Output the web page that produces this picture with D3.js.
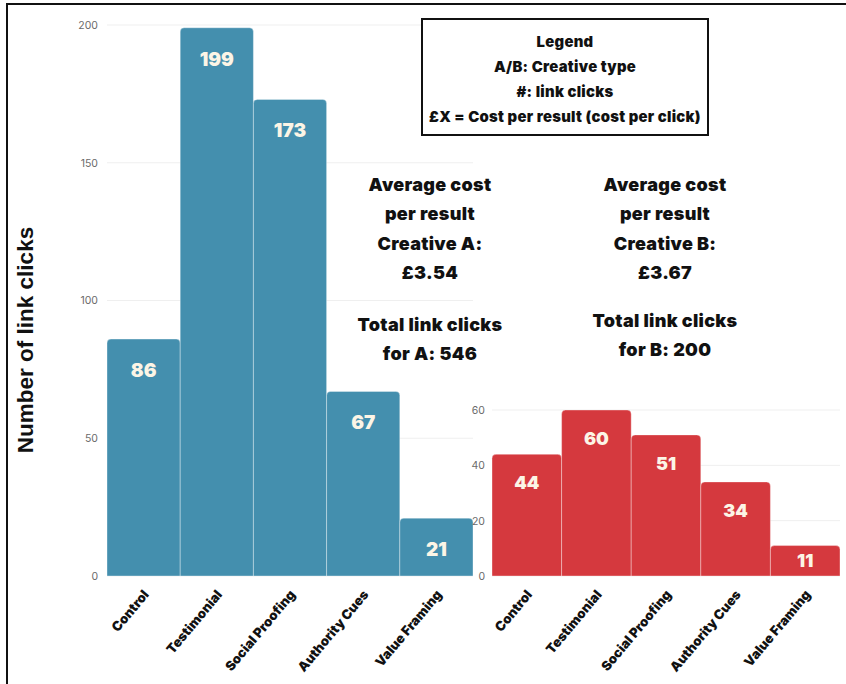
<!DOCTYPE html>
<html>
<head>
<meta charset="utf-8">
<script src="https://cdn.jsdelivr.net/npm/d3@7"></script>
<style>
  html, body { margin: 0; padding: 0; background: #fff; }
  svg { display: block; }
</style>
</head>
<body>
<svg id="chart" width="846" height="684"></svg>
<script>
const categories = ["Control", "Testimonial", "Social Proofing", "Authority Cues", "Value Framing"];
const clicksA = [86, 199, 173, 67, 21];
const clicksB = [44, 60, 51, 34, 11];
const ticksA = [0, 50, 100, 150, 200];
const ticksB = [0, 20, 40, 60];
const yTitle = "Number of link clicks";
const legendLines = ["Legend", "A/B: Creative type", "#: link clicks", "£X = Cost per result (cost per click)"];
const noteA = ["Average cost", "per result", "Creative A:", "£3.54"];
const totalA = ["Total link clicks", "for A: 546"];
const noteB = ["Average cost", "per result", "Creative B:", "£3.67"];
const totalB = ["Total link clicks", "for B: 200"];

const svg = d3.select("#chart");
const FONT = "Inter, 'Open Sans', 'DejaVu Sans', sans-serif";

// frame lines (left + top)
svg.append("line").attr("x1", 7).attr("x2", 7).attr("y1", 3).attr("y2", 684)
  .attr("stroke", "#111").attr("stroke-width", 2);
svg.append("line").attr("x1", 6).attr("x2", 846).attr("y1", 4).attr("y2", 4)
  .attr("stroke", "#111").attr("stroke-width", 2);

function topRounded(x, y, w, h, r) {
  r = Math.min(r, h, w / 2);
  const p = d3.path();
  p.moveTo(x, y + h);
  p.lineTo(x, y + r);
  p.quadraticCurveTo(x, y, x + r, y);
  p.lineTo(x + w - r, y);
  p.quadraticCurveTo(x + w, y, x + w, y + r);
  p.lineTo(x + w, y + h);
  p.closePath();
  return p.toString();
}

function drawPanel(opts) {
  const {values, ticks, xRange, yDomain, yRange, color, labelSize, labelOffset, tickX} = opts;
  const x = d3.scaleBand().domain(categories).range(xRange).padding(0);
  const y = d3.scaleLinear().domain(yDomain).range(yRange);
  const g = svg.append("g");

  // grid
  g.selectAll("line.grid").data(ticks).join("line")
    .attr("x1", xRange[0]).attr("x2", xRange[1])
    .attr("y1", d => y(d)).attr("y2", d => y(d))
    .attr("stroke", "#efefef").attr("stroke-width", 1);

  // y axis via d3 axis
  const axis = d3.axisLeft(y).tickValues(ticks).tickSize(0).tickPadding(0);
  const ag = g.append("g").attr("transform", `translate(${tickX},0)`).call(axis);
  ag.select(".domain").remove();
  ag.selectAll("text").attr("fill", "#6a6a6a").attr("font-size", 10.5)
    .attr("font-family", "Inter, 'Liberation Sans', Arial, sans-serif");

  // bars
  g.selectAll("path.bar").data(values).join("path")
    .attr("d", (d, i) => topRounded(x(categories[i]), y(d), x.bandwidth(), y(0) - y(d), 4))
    .attr("fill", color)
    .attr("stroke", "rgba(255,255,255,0.35)").attr("stroke-width", 1);

  // value labels
  g.selectAll("text.val").data(values).join("text")
    .attr("x", (d, i) => x(categories[i]) + x.bandwidth() / 2)
    .attr("y", d => y(d) + Math.min(labelOffset, y(0) - y(d) - 9))
    .attr("text-anchor", "middle")
    .attr("fill", "#fcf5e6")
    .attr("font-family", FONT).attr("font-weight", 900)
    .attr("font-size", labelSize)
    .text(d => d);

  // x labels
  g.selectAll("text.cat").data(categories).join("text")
    .attr("transform", d => `translate(${x(d) + x.bandwidth() / 2 + 6},595) rotate(-50)`)
    .attr("text-anchor", "end")
    .attr("fill", "#111")
    .attr("font-family", FONT).attr("font-weight", 900)
    .attr("font-size", 13.2)
    .text(d => d);
}

drawPanel({values: clicksA, ticks: ticksA, xRange: [107, 473], yDomain: [0, 200], yRange: [576, 25],
  color: "#448fae", labelSize: 19, labelOffset: 38, tickX: 98});
drawPanel({values: clicksB, ticks: ticksB, xRange: [492, 840], yDomain: [0, 60], yRange: [576, 410],
  color: "#d5393e", labelSize: 18, labelOffset: 35, tickX: 485});

// y title
svg.append("text")
  .attr("transform", "translate(33,340) rotate(-90)")
  .attr("text-anchor", "middle")
  .attr("font-family", "'Liberation Sans', Arial, sans-serif")
  .attr("font-weight", 700).attr("font-size", 22.5)
  .attr("fill", "#111")
  .text(yTitle);

// text blocks
function block(lines, cx, y0, step, size, ls) {
  svg.append("g").selectAll("text").data(lines).join("text")
    .attr("x", cx).attr("y", (d, i) => y0 + i * step)
    .attr("text-anchor", "middle")
    .attr("font-family", FONT).attr("font-weight", 900)
    .attr("font-size", size).attr("fill", "#111")
    .attr("letter-spacing", ls)
    .text(d => d);
}
block(noteA, 430, 191, 29.3, 18, 0.3);
block(totalA, 430, 331, 29, 18, 0.3);
block(noteB, 665, 191, 29.3, 18, 0.3);
block(totalB, 665, 327, 29, 18, 0.3);

// legend box
svg.append("rect").attr("x", 422).attr("y", 19).attr("width", 286).attr("height", 116)
  .attr("fill", "#fff").attr("stroke", "#111").attr("stroke-width", 2);
block(legendLines, 565, 47, 25, 14.8, 0.3);
</script>
</body>
</html>
